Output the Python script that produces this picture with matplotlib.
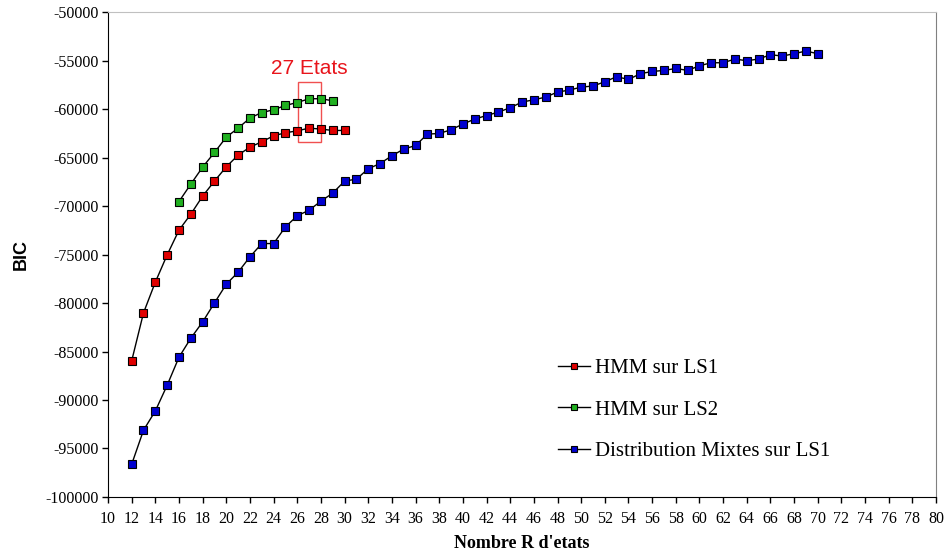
import matplotlib
matplotlib.use("Agg")
import matplotlib.pyplot as plt
from matplotlib.patches import Rectangle

plt.rcParams['axes.unicode_minus'] = False

# nombre d'etats et valeurs BIC
etats_ls1 = list(range(12, 31))
bic_hmm_ls1 = [-85970, -81020, -77850, -75040, -72490, -70840, -68980, -67430,
               -65960, -64750, -63930, -63380, -62760, -62450, -62250, -61970,
               -62070, -62210, -62210]

etats_ls2 = list(range(16, 30))
bic_hmm_ls2 = [-69540, -67740, -65990, -64480, -62900, -61970, -60930, -60360,
               -60080, -59630, -59330, -58940, -58940, -59150]

etats_mix = list(range(12, 71))
bic_mix_ls1 = [-96630, -93120, -91130, -88480, -85590, -83630, -81950, -79990,
               -78060, -76820, -75240, -73870, -73870, -72150, -71010, -70430,
               -69500, -68670, -67430, -67230, -66160, -65620, -64820, -64130,
               -63760, -62590, -62520, -62140, -61550, -61040, -60670, -60320,
               -59870, -59280, -59050, -58770, -58250, -58050, -57740, -57630,
               -57190, -56670, -56950, -56360, -56130, -56020, -55820, -56020,
               -55540, -55230, -55230, -54850, -55020, -54850, -54400, -54540,
               -54300, -54020, -54300]

series = [
    (etats_ls1, bic_hmm_ls1, "#e00000", "HMM sur LS1"),
    (etats_ls2, bic_hmm_ls2, "#20b020", "HMM sur LS2"),
    (etats_mix, bic_mix_ls1, "#0000d0", "Distribution Mixtes sur LS1"),
]

fig = plt.figure(figsize=(9.45, 5.54), dpi=100)
ax = fig.add_axes([0.1143, 0.1029, 0.8762, 0.8754])

for x, y, c, lab in series:
    ax.plot(x, y, '-', color='black', lw=1.0, marker='s', markersize=5.3,
            markerfacecolor=c, markeredgecolor='black', markeredgewidth=0.8,
            label=lab)

# cadre autour du maximum
ax.add_patch(Rectangle((26.1, -63400), 1.9, 6150, fill=False,
                       edgecolor='#f05050', lw=1.0))
ax.text(27.0, -55800, "27 Etats", color='#e8141b', fontsize=15,
        family='Liberation Sans', ha='center', va='center')

ax.set_xlim(10, 80)
ax.set_ylim(-100000, -50000)
ax.set_xticks(range(10, 81, 2))
ax.set_yticks(range(-100000, -49999, 5000))
ax.tick_params(direction='out', length=4, width=1, labelsize=11.5)
for t in ax.get_xticklabels() + ax.get_yticklabels():
    t.set_family('Liberation Serif')
ax.tick_params(axis='x', pad=6)
ax.tick_params(axis='y', pad=3)

ax.spines['top'].set_color('#c0c0c0')
ax.spines['right'].set_color('#808080')
ax.spines['left'].set_color('black')
ax.spines['bottom'].set_color('black')

ax.set_xlabel("Nombre R d'etats", family='Liberation Serif',
              fontweight='bold', fontsize=13, labelpad=6)
ax.set_ylabel("BIC", family='Liberation Sans', fontweight='bold',
              fontsize=13, labelpad=11)

leg = fig.legend(loc='center left', bbox_to_anchor=(0.579, 0.26),
                 frameon=False, borderpad=0, handlelength=1.55,
                 handletextpad=0.25, labelspacing=1.05,
                 prop={'family': 'Liberation Serif', 'size': 15})
for h in leg.legend_handles:
    h.set_markersize(5)

fig.savefig("out.png", dpi=100)
